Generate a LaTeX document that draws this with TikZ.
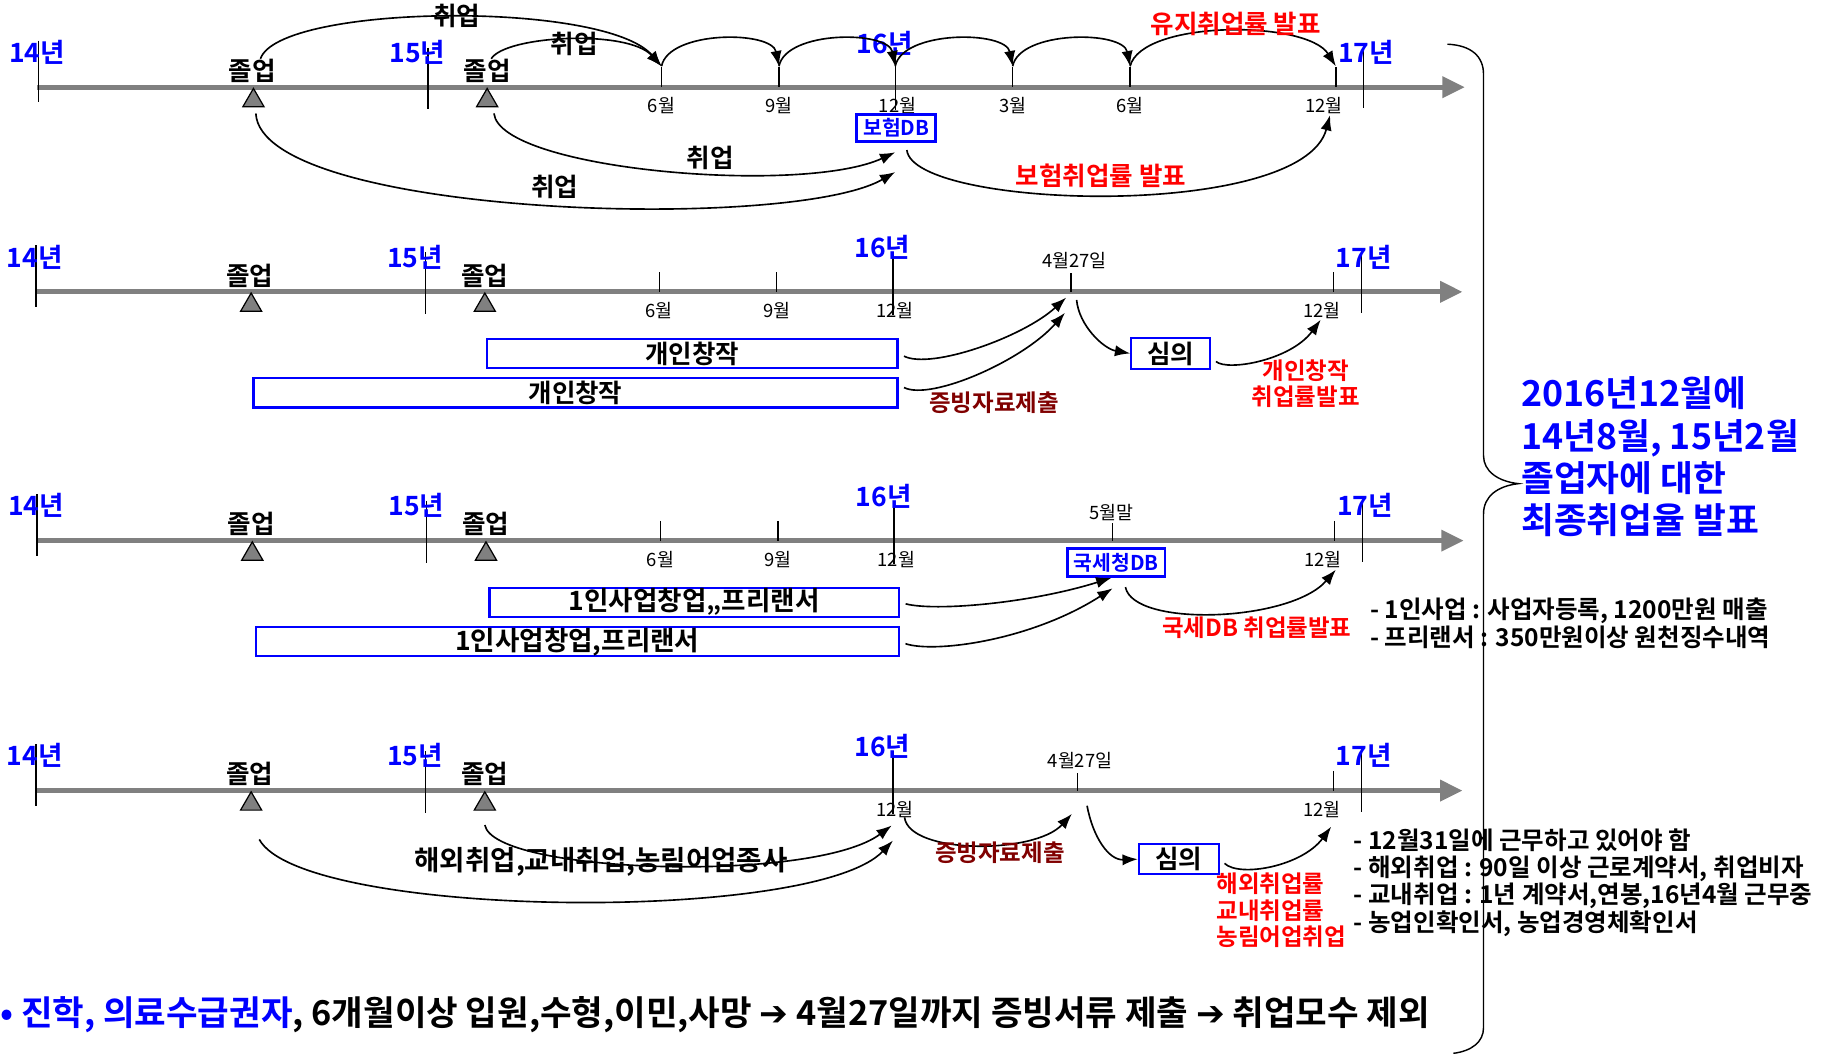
\documentclass[tikz,border=0pt]{standalone}
\usepackage{fontspec}
\setmainfont{Noto Sans CJK KR}[BoldFont={Noto Sans CJK KR Bold}]
\newfontfamily\symfont{DejaVu Sans}
\usetikzlibrary{positioning,shapes.geometric,arrows.meta}
\definecolor{axisgray}{RGB}{128,128,128}
\definecolor{proofred}{RGB}{128,0,0}
\newcommand{\fs}[2]{\fontsize{#1}{#2}\selectfont}

\begin{document}
\begin{tikzpicture}[x=0.02cm,y=-0.02cm,
    axis/.style={draw=axisgray,line width=2.6pt,-{Triangle[length=11pt,width=10pt]}},
    tick/.style={draw,line width=0.7pt},
    yearlab/.style={text=blue,font=\bfseries\fs{13pt}{13pt},inner sep=0pt},
    gradlab/.style={font=\bfseries\fs{12.5pt}{12.5pt},inner sep=0pt},
    gradmark/.style={regular polygon,regular polygon sides=3,draw,fill=axisgray,line width=0.6pt,inner sep=0pt,minimum size=0.42cm,anchor=corner 1},
    monlab/.style={font=\fs{9pt}{9pt},inner sep=0pt},
    dbbox/.style={draw=blue,line width=1.4pt,text=blue,font=\bfseries\fs{10pt}{10pt},inner sep=0pt},
    spanbox/.style={draw=blue,line width=1pt,font=\bfseries\fs{12.5pt}{12.5pt},inner sep=0pt,minimum height=0.5cm},
    redlab/.style={text=red,font=\bfseries\fs{11.5pt}{13pt},inner sep=0pt,align=center},
    bigred/.style={redlab,font=\bfseries\fs{12.5pt}{12.5pt}},
    prooflab/.style={text=proofred,font=\bfseries\fs{11.5pt}{11.5pt},inner sep=0pt},
    blacklab/.style={font=\bfseries\fs{12.5pt}{12.5pt},inner sep=0pt},
    note/.style={font=\bfseries\fs{12pt}{13.4pt},inner sep=0pt,align=left,anchor=west},
    arc/.style={draw,line width=0.8pt,-{Latex[length=7.5pt,width=5.5pt]}},
    gap/.style={shorten <=3pt}
  ]
  \useasboundingbox (0,0) rectangle (1568,906);

  % the four timelines
  \foreach \r/\y/\d in {1/75/0,2/251/-2,3/465/-1,4/680/-2}{
    \draw[axis] (32+\d,\y) -- (1260+\d,\y);
    \draw[tick] (33+\d,\y-40) -- (33+\d,\y+13);
    \draw[tick] (368+\d,\y-34) -- (368+\d,\y+19);
    \draw[tick] (770+\d,\y-34) -- (770+\d,\y+20);
    \draw[tick] (1173+\d,\y-34) -- (1173+\d,\y+18);
    \draw[tick] (1149+\d,\y-17) -- (1149+\d,\y);
    \node[yearlab] (y14-\r) at (32+\d,\y-30) {14년};
    \node[yearlab] (y15-\r) at (359+\d,\y-30) {15년};
    \node[yearlab] (y16-\r) at (761+\d,\y-38) {16년};
    \node[yearlab] (y17-\r) at (1175+\d,\y-30) {17년};
    \node[gradmark] (gm1-\r) at (218+\d,\y) {};
    \node[gradmark] (gm2-\r) at (419+\d,\y) {};
    \node[gradlab] (gl1-\r) at (217+\d,\y-14) {졸업};
    \node[gradlab] (gl2-\r) at (419+\d,\y-14) {졸업};
    \node[monlab] (m12a-\r) at (772+\d,\y+16) {12월};
    \node[monlab] (m12b-\r) at (1139+\d,\y+16) {12월};
  }
  % the months of the first year
  \foreach \r/\y/\d in {1/75/0,2/251/-2,3/465/-1}{
    \draw[tick] (569+\d,\y-17) -- (569+\d,\y);
    \draw[tick] (670+\d,\y-17) -- (670+\d,\y);
    \node[monlab] (m6-\r) at (569+\d,\y+16) {6월};
    \node[monlab] (m9-\r) at (670+\d,\y+16) {9월};
  }

  % insurance DB
  \draw[tick] (871,58) -- (871,75);
  \draw[tick] (972,58) -- (972,75);
  \node[monlab] (m3-1) at (871,91) {3월};
  \node[monlab] (m6b-1) at (972,91) {6월};
  \foreach \n/\x in {a/569,b/670,c/770,d/871,e/972,f/1149}
    \coordinate (h\n) at (\x,57);
  \draw[arc] ([xshift=4pt]gl1-1.north) .. controls +(16,-47) and +(-49,-57) .. (ha);
  \draw[arc] ([xshift=2pt]gl2-1.north) .. controls +(12,-20) and +(-29,-32) .. (ha);
  \foreach \a/\b in {a/b,b/c,c/d,d/e}
    \draw[arc] (h\a) .. controls +(6,-31) and +(-6,-31) .. (h\b);
  \draw[arc] (he) .. controls +(10,-40) and +(-25,-40) .. (hf);
  \node[blacklab] (job1) at (393,14) {취업};
  \node[blacklab] (job2) at (494,38) {취업};
  \node[bigred] (keeprate) at (1063,21) {유지취업률 발표};

  \node[dbbox,minimum width=1.36cm,minimum height=0.46cm] (insdb) at (771,110) {보험DB};
  \coordinate (ins-in1) at (770,131);
  \coordinate (ins-in2) at (770,148);
  \coordinate (ins-out) at (780,129);
  \coordinate (insrate-in) at (1144,99);
  \draw[arc,gap] ([xshift=3pt]gm2-1.south) .. controls +(6,54) and +(-80,37) .. (ins-in1);
  \draw[arc,gap] ([xshift=1pt]gm1-1.south) .. controls +(5,94) and +(-90,52) .. (ins-in2);
  \draw[arc] (ins-out) .. controls +(5,51) and +(-24,91) .. (insrate-in);
  \node[blacklab] (job3) at (611,136) {취업};
  \node[blacklab] (job4) at (477,161) {취업};
  \node[bigred] (insrate) at (947,151) {보험취업률 발표};

  % personal creation
  \draw[tick] (921,235) -- (921,251);
  \node[monlab] (d427-2) at (924,224) {4월27일};
  \node[spanbox,minimum width=7.06cm] (cre1) at (595.5,304) {개인창작};
  \node[spanbox,minimum width=11.08cm] (cre2) at (495,338) {개인창작};
  \node[spanbox,minimum width=1.36cm,minimum height=0.52cm] (rev-2) at (1007,304) {심의};
  \coordinate (cre-in1) at (917,256);
  \coordinate (cre-in2) at (916,269);
  \coordinate (cre-out) at (926,258);
  \coordinate (crerate-in) at (1136,275);
  \draw[arc,gap] (cre1.east) .. controls +(28,14) and +(-37,34) .. (cre-in1);
  \draw[arc,gap] ([yshift=4pt]cre2.east) .. controls +(28,14) and +(-36,41) .. (cre-in2);
  \draw[arc] (cre-out) .. controls +(2,22) and +(-23,-4) .. (rev-2.west);
  \draw[arc,gap] ([yshift=-2pt]rev-2.east) .. controls +(14,12) and +(-26,35) .. (crerate-in);
  \node[prooflab] (proof-2) at (855,346) {증빙자료제출};
  \node[redlab] (crerate) at (1123,330) {개인창작\\취업률발표};

  % one-person business
  \draw[tick] (957,450) -- (957,465);
  \node[monlab] (may-3) at (956,441) {5월말};
  \node[dbbox,minimum width=1.68cm,minimum height=0.48cm] (taxdb) at (960,484) {국세청DB};
  \node[spanbox,minimum width=7.04cm,font=\bfseries\fs{13pt}{13pt}] (biz1) at (597,518) {1인사업창업,,프리랜서};
  \node[spanbox,minimum width=11.06cm,font=\bfseries\fs{13pt}{13pt}] (biz2) at (496.5,552) {1인사업창업,프리랜서};
  \coordinate (tax-in1) at (956,497);
  \coordinate (tax-in2) at (957,506);
  \coordinate (tax-out) at (968,505);
  \coordinate (taxrate-in) at (1149,490);
  \draw[arc,gap] (biz1.east) .. controls +(30,8) and +(-70,22) .. (tax-in1);
  \draw[arc,gap] (biz2.east) .. controls +(30,10) and +(-70,45) .. (tax-in2);
  \draw[arc] (tax-out) .. controls +(7,35) and +(-39,45) .. (taxrate-in);
  \node[redlab] (taxrate) at (1081,540) {국세DB 취업률발표};
  \node[note] (biznote) at (1178,536) {- 1인사업 : 사업자등록, 1200만원 매출\\- 프리랜서 : 350만원이상 원천징수내역};

  % overseas, campus and farming jobs
  \draw[tick] (927,665) -- (927,680);
  \node[monlab] (d427-4) at (929,654) {4월27일};
  \node[blacklab,font=\bfseries\fs{13.5pt}{13.5pt}] (abroad) at (517,741) {해외취업,교내취업,농림어업종사};
  \coordinate (ab-out2) at (223,722);
  \coordinate (ab-in1) at (767,710);
  \coordinate (ab-in2) at (768,723);
  \draw[arc] ([yshift=-7pt]gm2-4.south) .. controls +(8,42) and +(-67,50) .. (ab-in1);
  \draw[arc] (ab-out2) .. controls +(37,68) and +(-68,72) .. (ab-in2);
  \coordinate (proof-out) at (778,703);
  \coordinate (proof-in) at (922,700);
  \draw[arc] (proof-out) .. controls +(4,32) and +(-32,35) .. (proof-in);
  \node[prooflab] (proof-4) at (860,733) {증빙자료제출};
  \node[spanbox,minimum width=1.38cm,minimum height=0.52cm] (rev-4) at (1014,739) {심의};
  \coordinate (rev-in4) at (935,693);
  \draw[arc] (rev-in4) .. controls +(5,27) and +(-25,1) .. (rev-4.west);
  \coordinate (abrate-in) at (1145,711);
  \draw[arc,gap] (rev-4.east) .. controls +(17,16) and +(-25,34) .. (abrate-in);
  \node[redlab,align=left,anchor=west] (abrate) at (1046,783) {해외취업률\\교내취업률\\농림어업취업};
  \node[note] (abnote) at (1164,759) {- 12월31일에 근무하고 있어야 함\\- 해외취업 : 90일 이상 근로계약서, 취업비자\\- 교내취업 : 1년 계약서,연봉,16년4월 근무중\\- 농업인확인서, 농업경영체확인서};

  % the brace and the final rate
  \draw[line width=0.7pt] (1245,38) .. controls (1265,39) and (1276,48) .. (1276,64) -- (1276,392)
    .. controls (1276,405) and (1288,414) .. (1306,416) .. controls (1288,418) and (1276,427) .. (1276,442)
    -- (1276,884) .. controls (1276,896) and (1266,904) .. (1250,906);
  \node[text=blue,font=\bfseries\fs{17.5pt}{20.7pt},align=left,anchor=west,inner sep=0pt] (final) at (1308,393)
    {2016년12월에\\14년8월, 15년2월\\졸업자에 대한\\최종취업율 발표};

  % the footer
  \node[font=\bfseries\fs{16.8pt}{16.8pt},anchor=west,inner sep=0pt] (footer) at (0,873)
    {\textcolor{blue}{• 진학, 의료수급권자}, 6개월이상 입원,수형,이민,사망 {\symfont\bfseries ➔} 4월27일까지 증빙서류 제출 {\symfont\bfseries ➔} 취업모수 제외};
\end{tikzpicture}
\end{document}
